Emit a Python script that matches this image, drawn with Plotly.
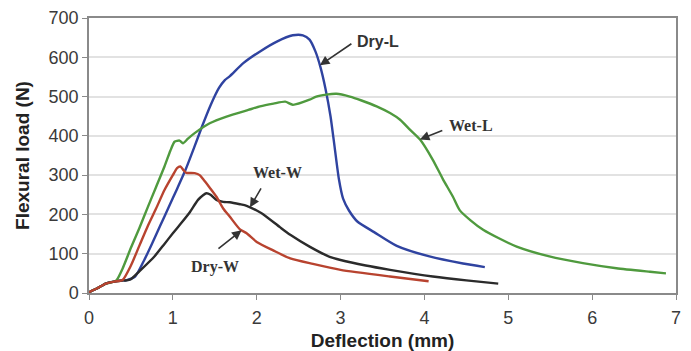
import numpy as np
import plotly.graph_objects as go

# Load-deflection curves of the four specimen groups (deflection in mm, load in N)
dry_l_defl = [0.0, 0.1, 0.2, 0.3, 0.4, 0.45, 0.55, 0.65, 0.75, 0.85, 0.95, 1.05, 1.15, 1.25,
              1.35, 1.45, 1.55, 1.62, 1.68, 1.84, 2.04, 2.24, 2.43, 2.55, 2.63, 2.70, 2.76,
              2.82, 2.88, 2.93, 2.98, 3.03, 3.10, 3.20, 3.40, 3.67, 4.06, 4.46, 4.72]
dry_l_load = [2, 12, 24, 29, 32, 33, 42, 80, 125, 172, 218, 265, 313, 368,
              425, 478, 522, 542, 552, 585, 615, 640, 656, 656, 645, 615, 575,
              520, 450, 370, 290, 240, 210, 182, 155, 120, 93, 75, 66]

wet_l_defl = [0.0, 0.1, 0.2, 0.3, 0.33, 0.4, 0.5, 0.6, 0.7, 0.8, 0.9, 0.97, 1.02, 1.08,
              1.12, 1.18, 1.26, 1.44, 1.64, 1.90, 2.04, 2.20, 2.34, 2.43, 2.63, 2.71,
              2.83, 2.95, 3.11, 3.25, 3.43, 3.59, 3.71, 3.83, 3.95, 4.10, 4.22, 4.34,
              4.42, 4.55, 4.70, 4.90, 5.10, 5.49, 5.89, 6.29, 6.69, 6.88]
wet_l_load = [2, 12, 24, 29, 33, 62, 115, 165, 218, 270, 322, 362, 385, 388,
              381, 393, 407, 432, 449, 466, 475, 482, 487, 479, 492, 500,
              505, 507, 500, 490, 475, 458, 441, 415, 390, 339, 290, 245,
              211, 185, 161, 138, 118, 93, 76, 63, 54, 50]

wet_w_defl = [0.0, 0.1, 0.2, 0.3, 0.4, 0.45, 0.5, 0.6, 0.78, 0.9, 1.0, 1.10, 1.2, 1.30,
              1.36, 1.40, 1.45, 1.52, 1.60, 1.68, 1.80, 1.88, 2.00, 2.08, 2.28, 2.40,
              2.63, 2.87, 3.00, 3.30, 3.59, 4.10, 4.50, 4.88]
wet_w_load = [2, 12, 24, 29, 32, 32, 35, 55, 93, 125, 152, 178, 205, 237,
              249, 254, 250, 237, 232, 231, 226, 222, 210, 200, 167, 148,
              118, 92, 84, 70, 59, 42, 32, 24]

dry_w_defl = [0.0, 0.1, 0.2, 0.3, 0.4, 0.5, 0.6, 0.7, 0.8, 0.9, 1.0, 1.05, 1.09, 1.13,
              1.16, 1.26, 1.32, 1.36, 1.44, 1.52, 1.60, 1.68, 1.80, 1.88, 2.00, 2.20,
              2.40, 2.67, 3.00, 3.59, 4.05]
dry_w_load = [2, 12, 24, 29, 33, 70, 120, 170, 215, 262, 300, 318, 322, 312,
              306, 305, 300, 290, 268, 245, 215, 194, 162, 152, 130, 108,
              88, 74, 59, 42, 30]

series_names = ["Dry-L", "Wet-L", "Wet-W", "Dry-W"]
series_defl = [dry_l_defl, wet_l_defl, wet_w_defl, dry_w_defl]
series_load = [dry_l_load, wet_l_load, wet_w_load, dry_w_load]
series_colors = ["#2f43a0", "#4f9a3e", "#2b2b2b", "#b8432f"]

# Callout labels: text position, arrow tail, and deflection at which the arrow meets its curve
label_text_xy = [(3.445, 640), (4.553, 426), (2.253, 308), (1.502, 66)]
label_tail_xy = [(3.147, 637), (4.231, 415), (2.062, 270), (1.526, 110)]
label_head_defl = [2.753, 3.945, 1.92, 1.82]
label_fonts = ["Liberation Sans, Arial, sans-serif", "Liberation Serif, Times New Roman, serif",
               "Liberation Serif, Times New Roman, serif", "Liberation Serif, Times New Roman, serif"]

fig = go.Figure()

for name, xs, ys, col in zip(series_names, series_defl, series_load, series_colors):
    fig.add_trace(go.Scatter(x=xs, y=ys, mode="lines", name=name,
                             line=dict(color=col, width=2.4, shape="spline", smoothing=0.6)))

for i, name in enumerate(series_names):
    hx = label_head_defl[i]
    hy = float(np.interp(hx, series_defl[i], series_load[i]))
    tx, ty = label_tail_xy[i]
    fig.add_annotation(x=hx, y=hy, ax=tx, ay=ty, axref="x", ayref="y",
                       text="", showarrow=True, arrowhead=2, arrowsize=1.2,
                       arrowwidth=1.6, arrowcolor="#333333")
    lx, ly = label_text_xy[i]
    fig.add_annotation(x=lx, y=ly, text="<b>%s</b>" % name, showarrow=False,
                       font=dict(family=label_fonts[i], size=16, color="#333333"))

axis_line = "#8a8a8a"
fig.update_xaxes(range=[0, 7], dtick=1, showgrid=False, zeroline=False, automargin=False,
                 showline=True, linecolor=axis_line, linewidth=1.5, mirror=True,
                 ticks="outside", ticklen=5, tickcolor=axis_line, ticklabelstandoff=3,
                 tickfont=dict(family="Liberation Sans, Arial, sans-serif", size=18, color="#3a3a3a"),
                 title=dict(text="<b>Deflection (mm)</b>", standoff=11,
                            font=dict(family="Liberation Sans, Arial, sans-serif", size=19, color="#222222")))
fig.update_yaxes(range=[0, 700], dtick=100, showgrid=True, gridcolor="#e2e2e2", gridwidth=1.5,
                 zeroline=False, showline=True, linecolor=axis_line, linewidth=1.5, mirror=True,
                 ticks="outside", ticklen=5, tickcolor=axis_line, automargin=False,
                 tickfont=dict(family="Liberation Sans, Arial, sans-serif", size=18, color="#3a3a3a"),
                 title=dict(text="<b>Flexural load (N)</b>", standoff=14,
                            font=dict(family="Liberation Sans, Arial, sans-serif", size=19, color="#222222")))

fig.update_layout(width=691, height=351, showlegend=False,
                  margin=dict(l=89, r=15, t=18, b=58),
                  paper_bgcolor="white", plot_bgcolor="white")

fig.write_html("out.html")
